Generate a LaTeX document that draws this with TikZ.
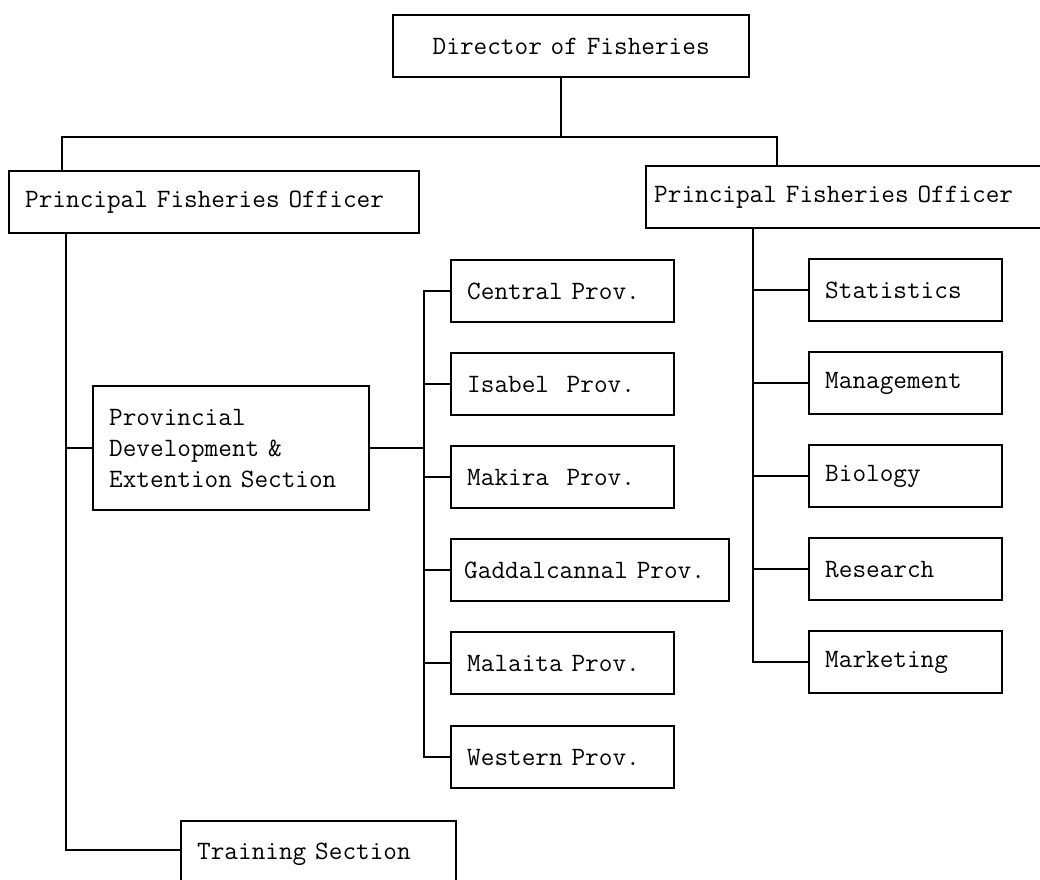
\documentclass[tikz,border=0pt]{standalone}
\usepackage{fontspec}
\setmonofont{Latin Modern Mono}
\newcommand{\orgfont}{\fontsize{26.5}{31}\selectfont\ttfamily}

\begin{document}
\begin{tikzpicture}[x=1pt, y=-1pt, line width=2.4pt,
        every node/.style={draw, anchor=north west, minimum height=62pt, inner xsep=16pt, align=left, font=\orgfont},
        unit/.style={text width=161pt},
        prov/.style={text width=191pt}]

    \useasboundingbox (0,0) rectangle (1040,879);

    % top of the chart
    \node[text width=324pt, align=center] (dir) at (392,14) {Director of Fisheries};
    \node[text width=378pt] (pfoL) at (8,170) {Principal Fisheries Officer};
    \node[text width=387pt, inner xsep=8pt] (pfoR) at (645,165) {Principal Fisheries Officer};

    % left branch
    \node[text width=244pt, minimum height=124pt] (devsec) at (92,385) {Provincial\\Development \&\\Extention Section};
    \node[text width=243pt, minimum height=66pt] (training) at (180,820) {Training Section};

    \node[prov] (central) at (450,259) {Central Prov.};
    \node[prov] (isabel) at (450,352) {Isabel\ \ Prov.};
    \node[prov] (makira) at (450,445) {Makira\ \ Prov.};
    \node[text width=252pt, inner xsep=13pt] (guadal) at (450,538) {Gaddalcannal Prov.};
    \node[prov] (malaita) at (450,631) {Malaita Prov.};
    \node[prov] (western) at (450,725) {Western Prov.};

    % right branch
    \node[unit] (stats) at (808,258) {Statistics};
    \node[unit] (mgmt) at (808,351) {Management};
    \node[unit] (bio) at (808,444) {Biology};
    \node[unit] (research) at (808,537) {Research};
    \node[unit] (market) at (808,630) {Marketing};

    \coordinate (topL) at (62,137);
    \coordinate (topR) at (777,137);
    \coordinate (spine) at (66,850);
    \coordinate (pbus) at (424,447);
    \coordinate (rspine) at (753,300);

    % connectors
    \draw ([xshift=-10pt]dir.south) -- ([xshift=-10pt]dir.south |- topL);
    \draw (pfoL.north -| topL) -- (topL) -- (topR) -- (pfoR.north -| topR);

    \draw (pfoL.south -| spine) -- (spine) -- (spine -| training.west);
    \draw (devsec.west -| spine) -- (devsec.west);
    \draw (devsec.east) -- (devsec.east -| pbus);
    \draw (central.west) -- (central.west -| pbus) -- (western.west -| pbus) -- (western.west);
    \draw (isabel.west -| pbus) -- (isabel.west);
    \draw (makira.west -| pbus) -- (makira.west);
    \draw (guadal.west -| pbus) -- (guadal.west);
    \draw (malaita.west -| pbus) -- (malaita.west);

    \draw (pfoR.south -| rspine) -- (market.west -| rspine) -- (market.west);
    \draw (stats.west -| rspine) -- (stats.west);
    \draw (mgmt.west -| rspine) -- (mgmt.west);
    \draw (bio.west -| rspine) -- (bio.west);
    \draw (research.west -| rspine) -- (research.west);
\end{tikzpicture}
\end{document}
